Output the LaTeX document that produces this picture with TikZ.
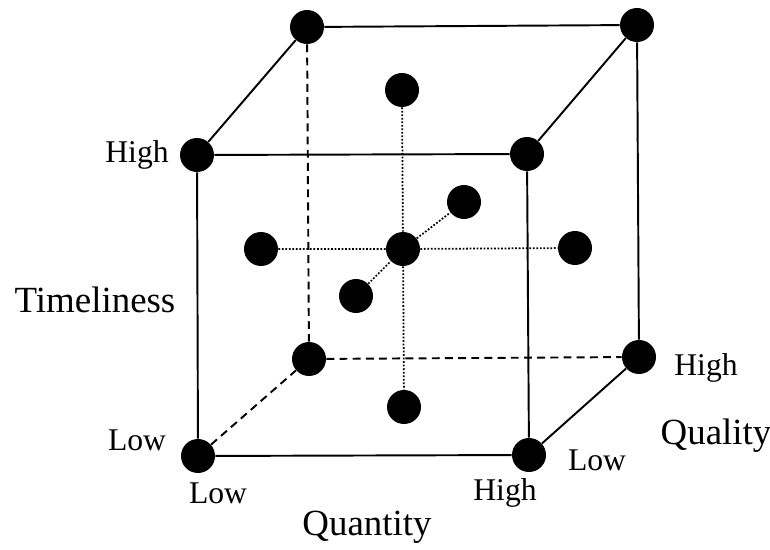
\documentclass[tikz,border=0pt]{standalone}
\usepackage{fontspec}
\setmainfont{Liberation Serif}
\usetikzlibrary{positioning}

\begin{document}
\begin{tikzpicture}[x=0.02cm,y=-0.02cm,
    dot/.style={circle,fill=black,inner sep=0pt,minimum size=0.68cm},
    edge/.style={line width=1.1pt},
    hidden/.style={line width=1.1pt,dash pattern=on 4.5pt off 3pt},
    axisline/.style={line width=1pt,dash pattern=on 1pt off 1pt},
    tick/.style={font=\fontsize{18}{20}\selectfont},
    axis/.style={font=\fontsize{21}{24}\selectfont}]
  \useasboundingbox (0,0) rectangle (770,550);
  % Cube corners: front face
  \node[dot] (ftl) at (197,155) {};
  \node[dot] (ftr) at (527,154) {};
  \node[dot] (fbl) at (198,456) {};
  \node[dot] (fbr) at (529,455) {};
  % Cube corners: back face
  \node[dot] (btl) at (307,27) {};
  \node[dot] (btr) at (637,25) {};
  \node[dot] (bbl) at (309,359) {};
  \node[dot] (bbr) at (639,357) {};
  % Inner points (centre and axis ends)
  \node[dot] (c)   at (403,249) {};
  \node[dot] (top) at (402,90) {};
  \node[dot] (bot) at (404,407) {};
  \node[dot] (lft) at (261,249) {};
  \node[dot] (rgt) at (575,248) {};
  \node[dot] (bck) at (464,202) {};
  \node[dot] (frn) at (356,296) {};
  % Visible edges
  \draw[edge] (ftl) -- (ftr) -- (fbr) -- (fbl) -- (ftl);
  \draw[edge] (ftl) -- (btl) -- (btr) -- (ftr);
  \draw[edge] (btr) -- (bbr) -- (fbr);
  % Hidden edges
  \draw[hidden] (btl) -- (bbl);
  \draw[hidden] (fbl) -- (bbl) -- (bbr);
  % Axes through the centre
  \draw[axisline] (top) -- (c) -- (bot);
  \draw[axisline] (lft) -- (c) -- (rgt);
  \draw[axisline] (frn) -- (c) -- (bck);
  % Labels
  \node[tick] (tHigh) at (137,155) {High};
  \node[tick] (tLow)  at (137,440) {Low};
  \node[axis] (tName) at (95,300) {Timeliness};
  \node[tick] (qnLow)  at (218,493) {Low};
  \node[tick] (qnHigh) at (505,493) {High};
  \node[axis] (qnName) at (367,527) {Quantity};
  \node[tick] (qlHigh) at (706,368) {High};
  \node[tick] (qlLow)  at (597,460) {Low};
  \node[axis] (qlName) at (716,436) {Quality};
\end{tikzpicture}
\end{document}
